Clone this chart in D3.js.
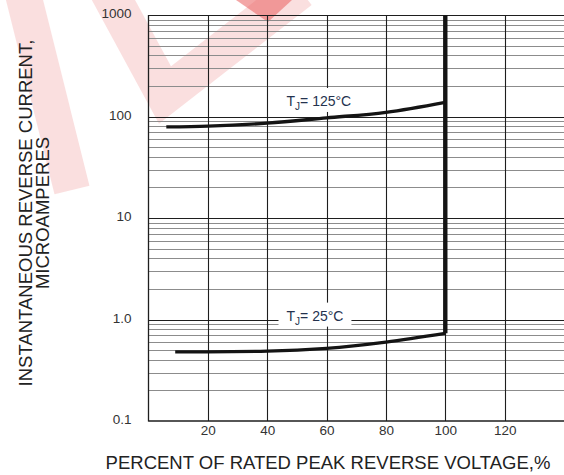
<!DOCTYPE html>
<html>
<head>
<meta charset="utf-8">
<script src="https://cdn.jsdelivr.net/npm/d3@7/dist/d3.min.js"></script>
<style>
  html, body { margin: 0; padding: 0; background: #fff; }
  svg { display: block; }
  text { font-family: "Liberation Sans", Arial, Helvetica, sans-serif; }
</style>
</head>
<body>
<svg id="chart" width="564" height="475"></svg>
<script>
// ---- data ----
const xTickValues = [20, 40, 60, 80, 100, 120];
const yTickValues = [0.1, 1, 10, 100, 1000];
const yTickLabels = ["0.1", "1.0", "10", "100", "1000"];

const tj125Percent = [6, 20, 40, 60, 80, 100];
const tj125Current = [79, 80.5, 86, 97, 110, 138];

const tj25Percent = [9, 20, 40, 60, 80, 100];
const tj25Current = [0.48, 0.48, 0.487, 0.52, 0.60, 0.73];

const breakdownPercent = [100, 100];
const breakdownCurrent = [0.73, 1000];

const seriesLabels = ["125°C", "25°C"];
const xTitle = "PERCENT OF RATED PEAK REVERSE VOLTAGE,%";
const yTitleLines = ["INSTANTANEOUS REVERSE CURRENT,", "MICROAMPERES"];

// ---- layout ----
const svg = d3.select("#chart");
const pL = 148.5, pR = 564, pT = 15, pB = 421;
const x = d3.scaleLinear().domain([0, 140]).range([pL, pR]);
const y = d3.scaleLog().domain([0.1, 1000]).range([pB, pT]);

// ---- decorative watermark (pale red) ----
const wm = svg.append("g").attr("fill", "none").attr("stroke-linecap", "butt");
wm.append("path").attr("d", "M22,-10 L72,190").attr("stroke", "#f4b8b8").attr("stroke-width", 36).attr("opacity", 0.45);
wm.append("path").attr("d", "M108,-10 L165,95 L300,-10").attr("stroke", "#f4b8b8").attr("stroke-width", 38).attr("stroke-linejoin", "miter").attr("opacity", 0.45);
wm.append("path").attr("d", "M236,0 L292,0 L268,22 Z").attr("fill", "#e95c5c").attr("stroke", "none").attr("opacity", 0.55);

// ---- grid ----
const grid = svg.append("g");
const minors = [];
for (let d = 0.1; d < 999; d *= 10) {
  for (let k = 2; k <= 9; k++) minors.push(d * k);
}
grid.selectAll("line.minor").data(minors).join("line")
  .attr("x1", pL).attr("x2", pR)
  .attr("y1", d => Math.round(y(d)) + 0.5).attr("y2", d => Math.round(y(d)) + 0.5)
  .attr("stroke", "#8c8c8c").attr("stroke-width", 1.1);
grid.selectAll("line.major").data([1, 10, 100, 1000]).join("line")
  .attr("x1", pL).attr("x2", pR)
  .attr("y1", d => Math.round(y(d)) + 0.5).attr("y2", d => Math.round(y(d)) + 0.5)
  .attr("stroke", "#1e1e1e").attr("stroke-width", 1.1);
grid.selectAll("line.v").data(xTickValues).join("line")
  .attr("x1", d => Math.round(x(d)) + 0.5).attr("x2", d => Math.round(x(d)) + 0.5)
  .attr("y1", pT).attr("y2", pB)
  .attr("stroke", "#1e1e1e").attr("stroke-width", 1.1);

// ---- series labels with white boxes ----
const labelColor = "#24324e";
const labelPos = [
  { px: 46.5, val: 127 },
  { px: 46.5, val: 0.975 }
];
seriesLabels.forEach((lab, i) => {
  const lx = x(labelPos[i].px), ly = y(labelPos[i].val);
  const g = svg.append("g");
  const t = g.append("text").attr("x", lx).attr("y", ly)
    .attr("font-size", 14).attr("fill", labelColor);
  t.append("tspan").text("T");
  t.append("tspan").text("J").attr("font-size", 10).attr("dy", 4);
  t.append("tspan").text("= " + lab).attr("dy", -4);
  const w = t.node().getComputedTextLength();
  g.insert("rect", "text").attr("x", lx - 8).attr("y", ly - 18)
    .attr("width", w + 16).attr("height", 24).attr("fill", "#fff");
});

// ---- curves ----
const line = d3.line().x(d => x(d[0])).y(d => y(d[1])).curve(d3.curveMonotoneX);
const s125 = tj125Percent.map((p, i) => [p, tj125Current[i]]);
const s25 = tj25Percent.map((p, i) => [p, tj25Current[i]]);
const sBd = breakdownPercent.map((p, i) => [p, breakdownCurrent[i]]);

svg.append("path").attr("d", line(s125)).attr("fill", "none")
  .attr("stroke", "#141414").attr("stroke-width", 3.3);
svg.append("path").attr("d", line(s25)).attr("fill", "none")
  .attr("stroke", "#141414").attr("stroke-width", 3.3);
svg.append("path").attr("d", d3.line().x(d => x(d[0])).y(d => y(d[1]))(sBd))
  .attr("fill", "none").attr("stroke", "#141414").attr("stroke-width", 4.4);

// ---- frame ----
svg.append("line").attr("x1", pL).attr("x2", pL).attr("y1", pT).attr("y2", pB + 0.5)
  .attr("stroke", "#1e1e1e").attr("stroke-width", 1.3);
svg.append("line").attr("x1", pL).attr("x2", pR).attr("y1", pB).attr("y2", pB)
  .attr("stroke", "#1e1e1e").attr("stroke-width", 1.3);

// ---- axes ----
const xAxis = d3.axisBottom(x).tickValues(xTickValues).tickSize(0).tickPadding(4.5)
  .tickFormat(d3.format("d"));
const gx = svg.append("g").attr("transform", `translate(0,${pB})`).call(xAxis);
gx.select(".domain").remove();
gx.selectAll("text").attr("font-size", 13.5).attr("fill", "#333")
  .attr("font-family", '"Liberation Sans", Arial, sans-serif');

const yAxis = d3.axisLeft(y).tickValues(yTickValues).tickSize(0).tickPadding(17)
  .tickFormat((d, i) => yTickLabels[i]);
const gy = svg.append("g").attr("transform", `translate(${pL},-1.5)`).call(yAxis);
gy.select(".domain").remove();
gy.selectAll("text").attr("font-size", 13.5).attr("fill", "#333")
  .attr("font-family", '"Liberation Sans", Arial, sans-serif');

// ---- titles ----
svg.append("text").attr("x", 328).attr("y", 469).attr("text-anchor", "middle")
  .attr("font-size", 18.5).attr("fill", "#222").text(xTitle);

const yt = svg.append("g").attr("transform", "translate(0,213) rotate(-90)");
yTitleLines.forEach((t, i) => {
  yt.append("text").attr("x", 0).attr("y", 32 + i * 17).attr("text-anchor", "middle")
    .attr("font-size", 18.5).attr("fill", "#222").text(t);
});
</script>
</body>
</html>
